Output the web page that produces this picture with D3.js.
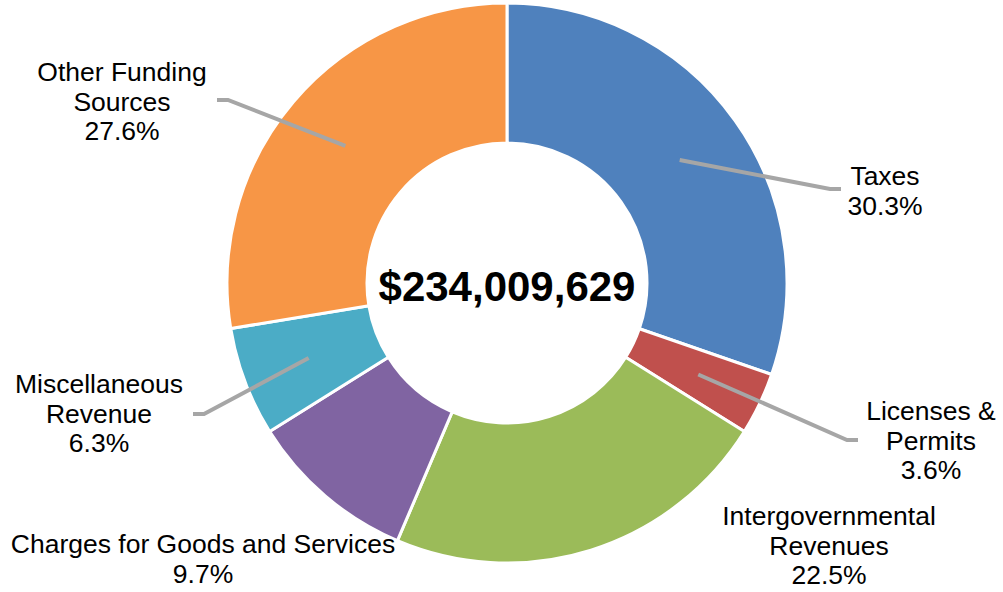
<!DOCTYPE html>
<html>
<head>
<meta charset="utf-8">
<script src="https://cdn.jsdelivr.net/npm/d3@7/dist/d3.min.js"></script>
<style>
  html, body { margin: 0; padding: 0; background: #fff; }
  svg { display: block; }
  text { font-family: "Liberation Sans", Arial, sans-serif; fill: #000; }
</style>
</head>
<body>
<svg id="chart" width="1003" height="592"></svg>
<script>
// Revenue sources (share of total, %)
const categories = ["Taxes", "Licenses & Permits", "Intergovernmental Revenues",
  "Charges for Goods and Services", "Miscellaneous Revenue", "Other Funding Sources"];
const shares = [30.3, 3.6, 22.5, 9.7, 6.3, 27.6];
const labelLines = [
  ["Taxes"],
  ["Licenses &", "Permits"],
  ["Intergovernmental", "Revenues"],
  ["Charges for Goods and Services"],
  ["Miscellaneous", "Revenue"],
  ["Other Funding", "Sources"]
];
const colors = ["#4F81BD", "#C0504D", "#9BBB59", "#8064A2", "#4BACC6", "#F79646"];
const totalText = "$234,009,629";

// Label placement: text center x, first baseline y, leader elbow (null = no leader)
const labelLayout = [
  { x: 885, y: 185, elbow: [830, 189], end: [841, 189] },
  { x: 931, y: 420, elbow: [847, 440], end: [858, 440] },
  { x: 829, y: 525, elbow: null },
  { x: 203, y: 553, elbow: null },
  { x: 99,  y: 393, elbow: [204, 414], end: [193, 414] },
  { x: 122, y: 81,  elbow: [228, 100], end: [217, 100] }
];

const svg = d3.select("#chart");
const cx = 507, cy = 283, rOuter = 280, rInner = 140, rLeader = 212;
const g = svg.append("g").attr("transform", `translate(${cx},${cy})`);

const pie = d3.pie().sort(null).value(d => d);
const arcs = pie(shares);
const arc = d3.arc().innerRadius(rInner).outerRadius(rOuter);

g.selectAll("path.slice")
  .data(arcs)
  .join("path")
  .attr("class", "slice")
  .attr("d", arc)
  .attr("fill", (d, i) => colors[i])
  .attr("stroke", "#fff")
  .attr("stroke-width", 3)
  .attr("stroke-linejoin", "miter");

// Leader lines from inside each slice to its label
const line = d3.line();
arcs.forEach((a, i) => {
  const L = labelLayout[i];
  if (!L.elbow) return;
  const mid = (a.startAngle + a.endAngle) / 2;
  const start = [cx + rLeader * Math.sin(mid), cy - rLeader * Math.cos(mid)];
  svg.append("path")
    .attr("d", line([start, L.elbow, L.end]))
    .attr("fill", "none")
    .attr("stroke", "#A6A6A6")
    .attr("stroke-width", 4)
    .attr("stroke-linejoin", "miter");
});

// Category labels with percentage
const fmt = d3.format(".1f");
arcs.forEach((a, i) => {
  const L = labelLayout[i];
  const t = svg.append("text")
    .attr("text-anchor", "middle")
    .attr("font-size", 26.5);
  const lines = labelLines[i].concat([fmt(shares[i]) + "%"]);
  lines.forEach((s, k) => {
    t.append("tspan").attr("x", L.x).attr("y", L.y + k * 29.5).text(s);
  });
});

// Total in the center
svg.append("text")
  .attr("x", cx)
  .attr("y", 301)
  .attr("text-anchor", "middle")
  .attr("font-size", 42)
  .attr("font-weight", "bold")
  .text(totalText);
</script>
</body>
</html>
